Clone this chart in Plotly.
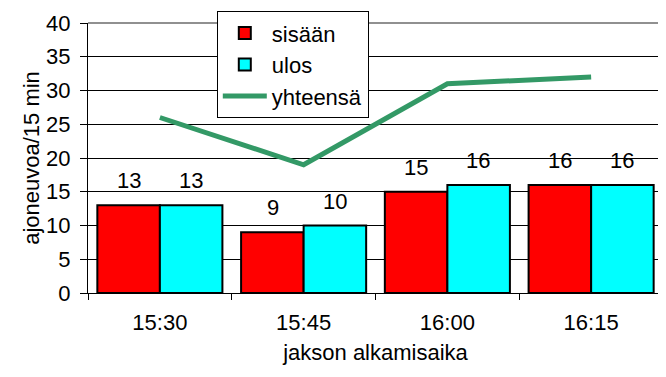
import plotly.graph_objects as go

categories = ["15:30", "15:45", "16:00", "16:15"]
sisaan = [13, 9, 15, 16]
ulos = [13, 10, 16, 16]
yhteensa = [26, 19, 31, 32]
y_ticks = [0, 5, 10, 15, 20, 25, 30, 35, 40]

FAM = "Liberation Sans, Arial, sans-serif"
font = dict(family=FAM, size=22, color="black")
tickfont = dict(family=FAM, size=22, color="black")

# the page body has an 8px default margin; compensate
W, H = 658, 369
L, R, T, B = 80, 3, 12, 84

fig = go.Figure()
fig.add_trace(go.Bar(
    x=categories, y=sisaan, name="sisään", legendgroup="a",
    marker=dict(color="#FF0000", line=dict(color="black", width=2)),
))
fig.add_trace(go.Bar(
    x=categories, y=ulos, name="ulos", legendgroup="b",
    marker=dict(color="#00FFFF", line=dict(color="black", width=2)),
))
fig.add_trace(go.Scatter(
    x=categories, y=yhteensa, name="yhteensä", mode="lines", legendgroup="c",
    line=dict(color="#339966", width=5),
))

annotations = []
for c, v in zip(categories, sisaan):
    annotations.append(dict(x=c, y=v, text=str(v), showarrow=False, xshift=-31,
                            yanchor="bottom", yshift=10, font=font))
for c, v in zip(categories, ulos):
    annotations.append(dict(x=c, y=v, text=str(v), showarrow=False, xshift=31,
                            yanchor="bottom", yshift=10, font=font))

fig.update_layout(
    width=W, height=H,
    margin=dict(l=L, r=R, t=T, b=B),
    paper_bgcolor="white", plot_bgcolor="white",
    font=font,
    barmode="group", bargap=0.13, bargroupgap=0,
    showlegend=True,
    legend=dict(
        x=0.224, y=1.044, xanchor="left", yanchor="top",
        bgcolor="white", bordercolor="black", borderwidth=1,
        font=font, traceorder="grouped",
        tracegroupgap=0, itemwidth=44,
    ),
    xaxis=dict(
        type="category", showline=True, linecolor="black", linewidth=1,
        ticks="outside", tickson="boundaries", ticklen=6, tickcolor="black",
        showgrid=False, ticklabelstandoff=10, tickfont=tickfont,
        title=dict(text="jakson alkamisaika", font=font, standoff=10),
    ),
    yaxis=dict(
        range=[0, 40], tickvals=y_ticks, showline=True, linecolor="black", linewidth=1,
        ticks="outside", ticklen=7, tickcolor="black", tickfont=tickfont,
        ticklabelstandoff=5,
        showgrid=True, gridcolor="black", gridwidth=1, zeroline=False,
        title=dict(text="ajoneuvoa/15 min", font=font, standoff=0),
    ),
    annotations=annotations,
    shapes=[
        dict(type="line", xref="paper", yref="paper", x0=0, x1=1, y0=1, y1=1,
             line=dict(color="#909090", width=2), layer="above"),
        dict(type="line", xref="paper", yref="paper", x0=1, x1=1, y0=1, y1=0,
             line=dict(color="#909090", width=2), layer="above"),
    ],
)

fig.write_html("out.html")
